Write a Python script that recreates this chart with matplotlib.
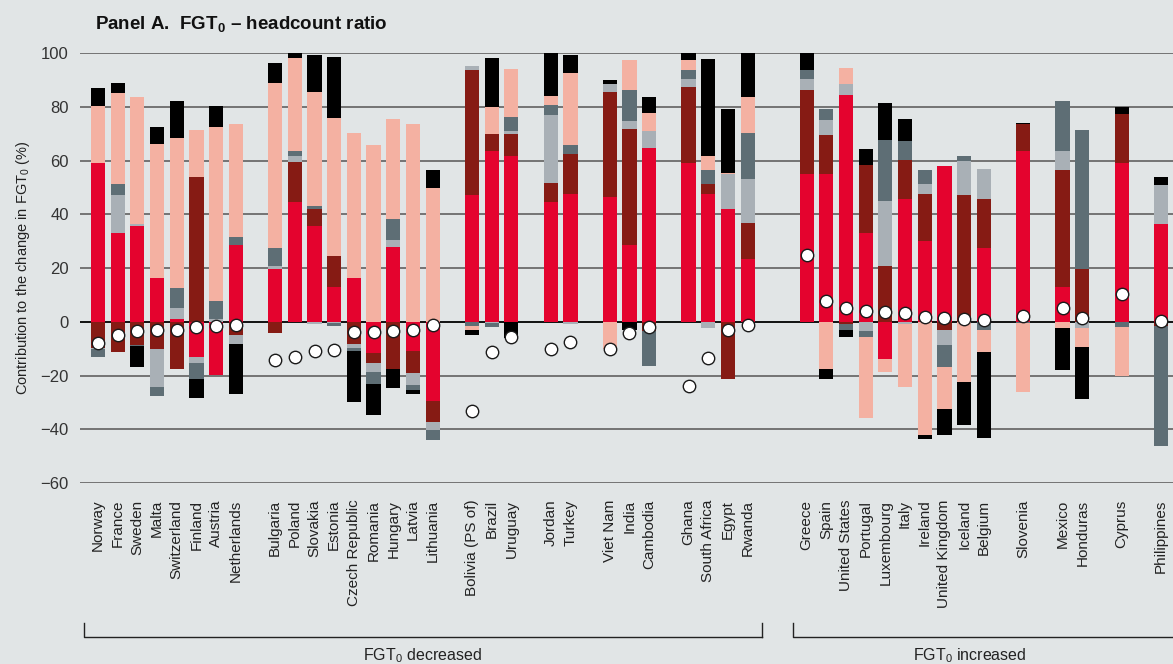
import numpy as np
import matplotlib
matplotlib.use("Agg")
import matplotlib.pyplot as plt
import matplotlib.transforms as mtransforms

# --- data (signed contributions, %) ---
countries = ["Norway", "France", "Sweden", "Malta", "Switzerland", "Finland", "Austria", "Netherlands",
             "Bulgaria", "Poland", "Slovakia", "Estonia", "Czech Republic", "Romania", "Hungary", "Latvia", "Lithuania",
             "Bolivia (PS of)", "Brazil", "Uruguay",
             "Jordan", "Turkey",
             "Viet Nam", "India", "Cambodia",
             "Ghana", "South Africa", "Egypt", "Rwanda",
             "Greece", "Spain", "United States", "Portugal", "Luxembourg", "Italy", "Ireland", "United Kingdom", "Iceland", "Belgium",
             "Slovenia",
             "Mexico", "Honduras",
             "Cyprus",
             "Philippines"]
group_sizes = [8, 9, 3, 2, 3, 4, 10, 1, 2, 1, 1]
n_decreased_groups = 6

comp_1 = [59.2, 33.2, 35.8, 16.1, 0.9, -13.3, -19.7, 28.4,
          19.8, 44.4, 35.8, 12.8, 16.1, -11.8, 28.0, -10.7, -29.6,
          47.0, 63.7, 61.8, 44.7, 47.7, 46.6, 28.4, 64.8,
          58.9, 47.7, 41.8, 23.2,
          55.1, 55.1, 84.5, 33.2, -14.0, 45.8, 29.9, 58.1, 0.0, 27.3,
          63.7, 12.8, 0.0, 59.2, 36.2]
comp_2 = [-9.6, -11.3, -8.8, -10.3, -17.7, 54.0, 0.0, -5.1,
          -4.0, 15.2, 6.0, 11.5, -8.1, -3.7, -17.7, -8.5, -7.8,
          46.8, 6.3, 8.2, 7.1, 14.9, 39.0, 43.5, -3.6,
          28.6, 3.4, -21.4, 13.7,
          31.3, 14.5, -1.0, 25.3, 20.9, 14.5, 17.8, -3.2, 47.3, 18.5,
          9.7, 43.8, 19.5, 18.2, -1.7]
comp_3 = [-0.6, 13.8, 0.4, -14.1, 4.1, -2.2, 0.9, -3.0,
          1.1, 1.9, -1.0, -0.4, -1.8, -3.3, 2.6, -4.5, -3.0,
          1.5, -0.6, 1.1, 25.1, -1.0, 3.0, 2.9, 6.3,
          3.0, -2.5, 13.0, 16.4,
          4.1, 5.6, 4.1, -3.6, 24.2, -1.0, 3.7, -5.6, 12.7, 11.2,
          0.0, 7.1, -2.5, 0.0, 14.5]
comp_4 = [-2.9, 4.4, -0.3, -3.2, 7.4, -5.9, 7.0, 3.0,
          6.7, 2.2, 1.4, -1.3, -0.8, -4.5, 7.8, -1.8, -3.7,
          -1.4, -1.5, 5.2, 3.7, 3.3, 0.0, 11.6, -13.0,
          3.3, 5.5, 0.0, 17.1,
          3.3, 4.1, -2.2, -2.2, 22.7, 7.1, 5.2, -8.2, 1.8, -2.9,
          -0.6, 18.6, 52.0, -2.1, -44.6]
comp_5 = [21.2, 33.9, 47.6, 50.2, 56.1, 17.5, 64.7, 42.0,
          61.4, 34.6, 42.4, 51.7, 54.3, 65.6, 37.2, 73.4, 49.6,
          -1.8, 10.0, 17.9, 3.4, 26.8, -10.3, 11.1, 6.7,
          3.7, 5.2, 0.4, 13.4,
          0.0, -17.7, 5.9, -30.1, -4.8, -23.4, -42.3, -15.6, -22.6, -8.5,
          -25.7, -2.5, -7.0, -18.2, 0.0]
comp_6 = [6.7, 3.7, -7.9, 6.3, 13.8, -7.1, 7.8, -18.8,
          7.4, 1.7, 13.8, 22.6, -19.3, -11.5, -7.1, -1.5, 6.7,
          -1.9, 18.3, -6.2, 16.2, 6.7, 1.5, -2.9, 6.0,
          2.5, 36.1, 23.8, 16.2,
          6.2, -3.7, -2.6, 5.9, 13.7, 8.2, -1.4, -9.7, -15.9, -32.0,
          0.7, -15.6, -19.4, 2.6, 3.3]
change = [-7.8, -5.1, -3.5, -3.2, -3.1, -1.9, -1.4, -1.2,
          -14.3, -13.3, -10.8, -10.4, -3.8, -3.7, -3.3, -3.2, -1.2,
          -33.2, -11.4, -5.7, -10.2, -7.4, -10.3, -4.3, -1.9,
          -24.0, -13.4, -3.2, -1.1,
          24.9, 7.6, 5.0, 4.0, 3.8, 3.2, 1.9, 1.5, 1.1, 0.7,
          2.1, 5.0, 1.5, 10.2, 0.4]

colors = ["#e4032e", "#861b14", "#a9b0b6", "#5e6e75", "#f4b1a2", "#000000"]
bg = "#e1e5e6"

# --- x positions: one empty slot between groups, one more between decreased/increased ---
xpos = []
x = 0
for g, size in enumerate(group_sizes):
    for i in range(size):
        xpos.append(x)
        x += 1
    x += 1
    if g == n_decreased_groups - 1:
        x += 1
xpos = np.array(xpos)

plt.rcParams["font.family"] = ["Liberation Sans", "DejaVu Sans"]
plt.rcParams["mathtext.fontset"] = "custom"
plt.rcParams["mathtext.rm"] = "Liberation Sans"
plt.rcParams["mathtext.it"] = "Liberation Sans"
plt.rcParams["mathtext.bf"] = "Liberation Sans:bold"

fig = plt.figure(figsize=(11.73, 6.64), dpi=100, facecolor=bg)
ax = fig.add_axes([80 / 1173, 1 - 483 / 664, 1 - 80 / 1173, 430 / 664])
ax.set_facecolor(bg)

for yv in range(-60, 101, 20):
    ax.axhline(yv, color="#000000" if yv == 0 else "#6b6b6b", lw=1.3, zorder=1)

pos_base = np.zeros(len(countries))
neg_base = np.zeros(len(countries))
for vals, col in zip([comp_1, comp_2, comp_3, comp_4, comp_5, comp_6], colors):
    v = np.array(vals)
    p = np.where(v > 0, v, 0)
    n = np.where(v < 0, v, 0)
    ax.bar(xpos, p, bottom=pos_base, width=0.72, color=col, zorder=2)
    ax.bar(xpos, n, bottom=neg_base, width=0.72, color=col, zorder=2)
    pos_base += p
    neg_base += n

ax.scatter(xpos, change, s=80, facecolor="white", edgecolor="#1a1a1a", linewidth=1.0, zorder=3)

ax.set_xlim(-0.914, 54.61)
ax.set_ylim(-60, 100)
ax.set_yticks(range(-60, 101, 20))
ax.set_yticklabels([str(t).replace("-", "\u2212") for t in range(-60, 101, 20)], fontsize=12, color="#333333")
ax.set_xticks(xpos)
ax.set_xticklabels(countries, rotation=90, fontsize=11, color="#222222")
ax.tick_params(axis="both", length=0)
ax.tick_params(axis="y", pad=8)
ax.tick_params(axis="x", pad=12)
for s in ax.spines.values():
    s.set_visible(False)

ax.set_ylabel("Contribution to the change in FGT$_0$ (%)", fontsize=10.5, color="#222222", labelpad=6)

# --- brackets below the labels ---
trans = mtransforms.blended_transform_factory(ax.transData, ax.transAxes)
y_line = (483 - 637) / 430
y_tick = (483 - 623) / 430
y_text = (483 - 656) / 430
for x0, x1 in [(-0.71, 33.73), (35.31, 56)]:
    ax.plot([x0, x0, x1], [y_tick, y_line, y_line], color="#222222", lw=1, transform=trans, clip_on=False)
    if x1 < 55:
        ax.plot([x1, x1], [y_line, y_tick], color="#222222", lw=1, transform=trans, clip_on=False)
ax.text(16.5, y_text, "FGT$_0$ decreased", transform=trans, ha="center", va="center", fontsize=11.5, color="#222222")
ax.text(44.3, y_text, "FGT$_0$ increased", transform=trans, ha="center", va="center", fontsize=11.5, color="#222222")

fig.text(95 / 1173, 1 - 24 / 664, "Panel A.  FGT$_\\mathbf{0}$ \u2013 headcount ratio", fontsize=13.5, fontweight="bold",
         ha="left", va="center", color="#111111")

fig.savefig("out.png", dpi=100, facecolor=bg)
